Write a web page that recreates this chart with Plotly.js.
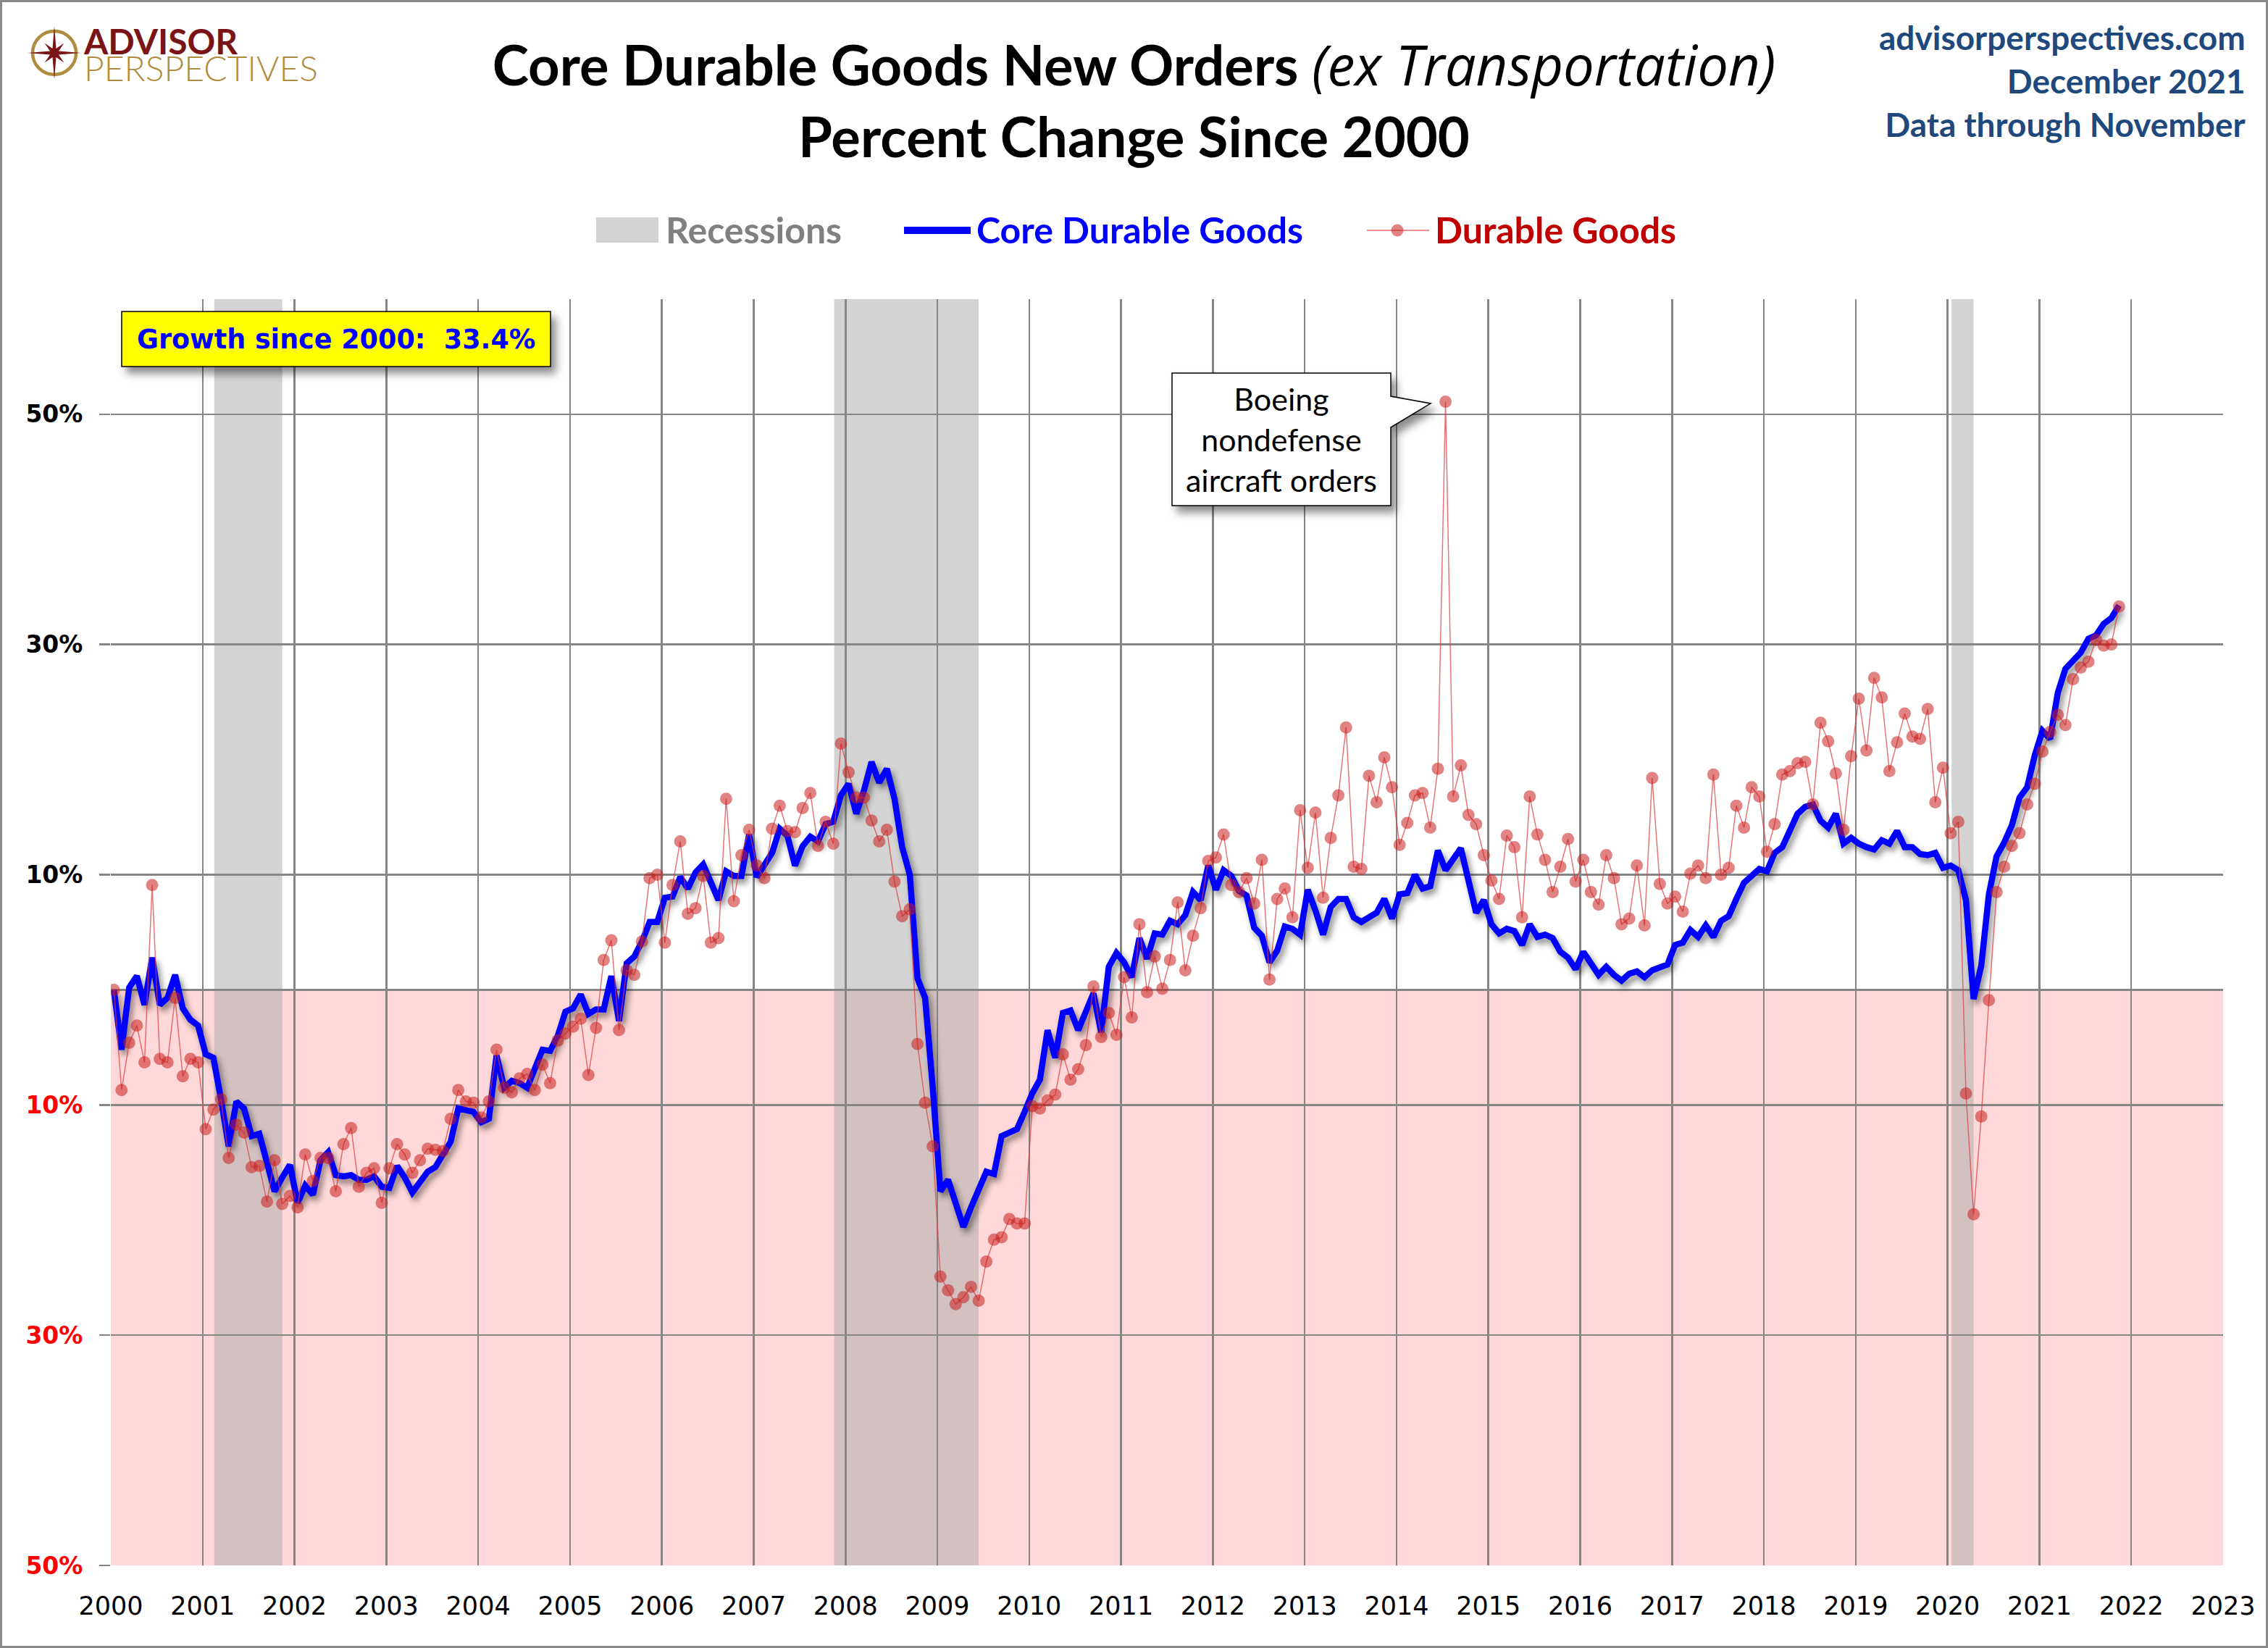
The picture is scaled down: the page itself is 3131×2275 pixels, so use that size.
<!DOCTYPE html>
<html><head><meta charset="utf-8">
<script src="https://cdn.plot.ly/plotly-3.0.1.min.js"></script>
<style>
html,body{margin:0;padding:0;background:#fff;overflow:hidden}
#chart{width:3131px;height:2275px}
#frame{position:absolute;left:0;top:0;width:3131px;height:2275px;box-sizing:border-box;border:3px solid #8a8a8a;pointer-events:none}
</style></head><body>
<div id="chart"></div><div id="frame"></div>
<script>
// ---------- DATA (percent change since Jan 2000, monthly Jan 2000 - Nov 2021) ----------
const startYear = 2000;
const coreDurable = [
  0.0,-5.2,0.2,1.2,-1.3,2.8,-1.3,-0.7,1.3,-1.6,-2.6,-3.1,            // 2000
  -5.6,-5.9,-9.5,-13.6,-9.7,-10.3,-12.7,-12.5,-15.0,-17.5,-16.3,-15.2, // 2001
  -18.5,-17.0,-17.8,-14.8,-14.1,-16.1,-16.2,-16.1,-16.5,-16.5,-16.2,-17.1, // 2002
  -17.2,-15.3,-16.3,-17.6,-16.7,-15.8,-15.4,-14.3,-13.2,-10.3,-10.4,-10.6, // 2003
  -11.5,-11.2,-5.7,-8.5,-7.9,-8.1,-8.5,-6.7,-5.2,-5.3,-4.0,-1.9,      // 2004
  -1.6,-0.4,-2.1,-1.7,-1.7,1.2,-2.7,2.3,2.9,4.2,5.9,5.9,              // 2005
  8.0,8.1,9.8,8.8,10.2,10.9,9.4,7.8,10.3,9.9,9.9,13.5,                // 2006
  9.8,10.9,11.9,14.0,13.4,10.8,12.5,13.3,12.9,14.4,14.6,16.9,         // 2007
  17.9,15.3,17.3,19.8,18.0,19.2,16.6,12.4,10.0,1.0,-0.7,-8.5,         // 2008
  -17.5,-16.5,-18.7,-20.6,-18.9,-17.3,-15.8,-16.0,-12.7,-12.4,-12.1,-10.6, // 2009
  -9.0,-7.8,-3.5,-5.9,-2.0,-1.8,-3.5,-1.9,-0.3,-3.7,2.0,3.2,          // 2010
  2.4,1.1,4.5,2.7,4.9,4.8,6.0,5.7,6.5,8.5,7.8,10.8,                   // 2011
  8.7,10.4,9.9,8.6,8.2,5.4,4.7,2.4,3.4,5.5,5.3,4.8,                   // 2012
  8.7,6.9,4.8,7.2,7.9,7.9,6.3,5.9,6.3,6.7,7.9,6.2,                    // 2013
  8.3,8.4,10.0,8.8,9.0,12.1,10.4,11.3,12.3,9.5,6.7,7.8,               // 2014
  5.7,4.9,5.3,5.1,3.9,5.7,4.6,4.8,4.5,3.3,2.8,1.8,                    // 2015
  3.3,2.3,1.3,2.0,1.3,0.8,1.4,1.6,1.1,1.7,2.0,2.2,                    // 2016
  3.9,4.1,5.2,4.6,5.6,4.6,6.0,6.4,7.9,9.3,9.9,10.5,                   // 2017
  10.3,11.9,12.4,14.0,15.3,15.9,16.1,14.7,14.1,15.3,12.7,13.2,        // 2018
  12.7,12.4,12.2,13.0,12.7,13.8,12.4,12.4,11.8,11.7,11.9,10.6,        // 2019
  10.8,10.4,7.8,-0.8,2.1,8.3,11.6,12.8,14.3,16.7,17.6,20.4,           // 2020
  22.5,21.8,25.8,27.9,28.7,29.3,30.5,30.8,31.8,32.3,33.4              // 2021
];
const durableGoods = [
  0.0,-8.7,-4.6,-3.1,-6.3,9.1,-6.0,-6.3,-0.7,-7.5,-6.0,-6.3,          // 2000
  -12.1,-10.4,-9.5,-14.6,-11.7,-12.4,-15.4,-15.3,-18.4,-14.8,-18.6,-17.9, // 2001
  -18.9,-14.3,-16.6,-14.6,-14.6,-17.5,-13.4,-12.0,-17.1,-15.9,-15.5,-18.5, // 2002
  -15.5,-13.4,-14.3,-15.9,-14.8,-13.8,-13.9,-14.0,-11.2,-8.7,-9.7,-9.8,  // 2003
  -11.1,-9.7,-5.2,-8.5,-8.9,-7.7,-7.3,-8.7,-6.5,-8.1,-4.4,-3.8,       // 2004
  -3.2,-2.5,-7.4,-3.3,2.6,4.3,-3.5,1.7,1.3,4.2,9.7,10.0,              // 2005
  4.1,9.1,12.9,6.6,7.1,9.9,4.1,4.5,16.6,7.7,11.7,13.9,                // 2006
  10.8,9.7,14.0,16.0,13.8,13.7,15.8,17.1,12.5,14.6,12.7,21.4,         // 2007
  18.9,16.7,16.7,14.7,12.9,13.9,9.4,6.4,7.0,-4.7,-9.8,-13.6,          // 2008
  -24.9,-26.1,-27.3,-26.7,-25.8,-27.0,-23.6,-21.7,-21.5,-19.9,-20.3,-20.3, // 2009
  -10.1,-10.3,-9.6,-9.1,-5.6,-7.8,-6.9,-4.8,0.3,-4.1,-2.0,-3.9,       // 2010
  1.1,-2.4,5.7,-0.2,2.9,0.1,2.6,7.6,1.7,4.7,7.1,11.2,                 // 2011
  11.5,13.5,9.1,8.5,9.7,7.5,11.3,0.9,7.9,8.8,6.3,15.6,                // 2012
  10.6,15.4,8.0,13.2,16.9,22.8,10.7,10.5,18.6,16.3,20.2,17.6,         // 2013
  12.6,14.5,16.9,17.1,14.1,19.2,51.1,16.8,19.5,15.2,14.4,11.7,        // 2014
  9.5,7.9,13.4,12.4,6.3,16.8,13.5,11.3,8.5,10.7,13.1,9.4,             // 2015
  11.3,8.5,7.4,11.7,9.7,5.7,6.2,10.8,5.6,18.4,9.2,7.5,                // 2016
  8.1,6.8,10.1,10.8,9.7,18.7,10.0,10.6,16.0,14.1,17.6,16.8,           // 2017
  12.0,14.4,18.7,19.0,19.7,19.8,16.1,23.2,21.6,18.8,13.9,20.3,        // 2018
  25.3,20.8,27.1,25.4,19.0,21.5,24.0,22.0,21.8,24.4,16.3,19.3,        // 2019
  13.6,14.6,-9.0,-19.5,-11.0,-0.9,8.5,10.7,12.5,13.6,16.1,17.9,       // 2020
  20.7,22.4,23.9,23.0,27.0,28.0,28.5,30.4,29.9,30.0,33.3              // 2021
];
const recessionPeaks   = ['2001-03','2007-12','2020-02'];
const recessionTroughs = ['2001-11','2009-06','2020-04'];
const yTickVals = [-50,-30,-10,10,30,50];
const yTickText = yTickVals.map(v => v < 0 ? '<span style="color:#FF0000">' + Math.abs(v) + '%</span>' : v + '%');
const legendNames = ['Recessions','Core Durable Goods','Durable Goods'];
const sourceLines = ['advisorperspectives.com','December 2021','Data through November'];
const calloutText = ['Boeing','nondefense','aircraft orders'];

// ---------- helpers ----------
const monthX = i => startYear + (i + 0.4) / 12;
const monthIndex = s => (parseInt(s.slice(0,4)) - startYear) * 12 + parseInt(s.slice(5,7)) - 1;
const xs = coreDurable.map((_, i) => monthX(i));
const xd = durableGoods.map((_, i) => monthX(i));

const W = 3131, H = 2275, ML = 153, MR = 62, MT = 413, MB = 114;
const PW = W - ML - MR, PH = H - MT - MB;
const px = v => (v - ML) / PW;
const py = v => (MT + PH - v) / PH;

const GRID = '#868686';
const shapes = [];
// negative region
shapes.push({type:'rect', xref:'paper', yref:'y', x0:0, x1:1, y0:-50, y1:0,
  fillcolor:'#FFD9D9', line:{width:0}, layer:'below'});
// recessions
recessionPeaks.forEach((p, k) => {
  shapes.push({type:'rect', xref:'x', yref:'paper',
    x0: monthX(monthIndex(p) - 1) + 0.01, x1: monthX(monthIndex(recessionTroughs[k])),
    y0:0, y1:1, fillcolor:'rgba(172,172,172,0.53)', line:{width:0}, layer:'below'});
});
// growth box
const growthIdx = shapes.length;
shapes.push({type:'rect', xref:'paper', yref:'paper', x0:px(168), x1:px(760), y0:py(506), y1:py(430),
  fillcolor:'#FFFF00', line:{color:'#000', width:1.5}, layer:'above'});
// callout
const cp = [[1618,515],[1920,515],[1920,547],[1975,557],[1920,590],[1920,698],[1618,698]];
const calloutIdx = shapes.length;
shapes.push({type:'path', xref:'paper', yref:'paper',
  path: 'M' + cp.map(p => px(p[0]) + ',' + py(p[1])).join('L') + 'Z',
  fillcolor:'#FFFFFF', line:{color:'#000', width:1.5}, layer:'above'});
// legend symbols
shapes.push({type:'rect', xref:'paper', yref:'paper', x0:px(823), x1:px(909), y0:py(335), y1:py(300),
  fillcolor:'#D3D3D3', line:{width:0}});
shapes.push({type:'line', xref:'paper', yref:'paper', x0:px(1248), x1:px(1340), y0:py(318), y1:py(318),
  line:{color:'#0000FF', width:10}});
shapes.push({type:'line', xref:'paper', yref:'paper', x0:px(1887), x1:px(1973), y0:py(318), y1:py(318),
  line:{color:'rgba(220,60,60,0.75)', width:1.5}});
shapes.push({type:'circle', xref:'paper', yref:'paper', x0:px(1920.5), x1:px(1937.5), y0:py(326.5), y1:py(309.5),
  fillcolor:'rgba(200,30,30,0.55)', line:{width:0}});
// logo compass
const cx = 75, cy = 73;
shapes.push({type:'circle', xref:'paper', yref:'paper', x0:px(cx-30), x1:px(cx+30), y0:py(cy+30), y1:py(cy-30),
  line:{color:'#B08D3E', width:4.5}});
let star = [];
for (let k = 0; k < 16; k++) {
  const a = k * Math.PI / 8;
  const r = (k % 4 === 0) ? 37 : (k % 2 === 0 ? 19 : 6.5);
  star.push(px(cx + r * Math.sin(a)) + ',' + py(cy - r * Math.cos(a)));
}
shapes.push({type:'path', xref:'paper', yref:'paper', path:'M' + star.join('L') + 'Z',
  fillcolor:'#7A1416', line:{width:0}});

const LATO = 'Lato, "Open Sans", sans-serif';
const annotations = [
  // logo: one text element, base size sets the tight line spacing, spans set glyph size
  {xref:'paper', yref:'paper', x:px(113), y:py(75), xanchor:'left', yanchor:'middle', align:'left', showarrow:false,
   text:'<span style="font-size:48px;font-weight:bold;fill:#7A1416">ADVISOR</span><br>' +
        '<span style="font-size:48px;font-weight:300;fill:#B08D3E">PERSPECTIVES</span>',
   font:{family:LATO, size:28.5, color:'#7A1416'}},
  {xref:'paper', yref:'paper', x:px(3102), y:py(112), xanchor:'right', yanchor:'middle', align:'right', showarrow:false,
   text: sourceLines.join('<br>'), font:{family:LATO, size:46, color:'#1F497D', weight:'bold'}},
  {xref:'paper', yref:'paper', x:px(917), y:py(317), xanchor:'left', yanchor:'middle', showarrow:false,
   text: legendNames[0], font:{family:LATO, size:50, color:'#808080', weight:'bold'}},
  {xref:'paper', yref:'paper', x:px(1346), y:py(317), xanchor:'left', yanchor:'middle', showarrow:false,
   text: legendNames[1], font:{family:LATO, size:50, color:'#0000FF', weight:'bold'}},
  {xref:'paper', yref:'paper', x:px(1979), y:py(317), xanchor:'left', yanchor:'middle', showarrow:false,
   text: legendNames[2], font:{family:LATO, size:50, color:'#C00000', weight:'bold'}},
  {xref:'paper', yref:'paper', x:px(464), y:py(468), xanchor:'center', yanchor:'middle', showarrow:false,
   text: 'Growth since 2000:\u00a0 ' + coreDurable[coreDurable.length-1].toFixed(1) + '%',
   font:{family:'DejaVu Sans', size:36.5, color:'#0000FF', weight:'bold'}},
  {xref:'paper', yref:'paper', x:px(1769), y:py(606), xanchor:'center', yanchor:'middle', align:'center', showarrow:false,
   text: calloutText.join('<br>'), font:{family:LATO, size:43, color:'#000'}}
];

const traces = [
  {type:'scatter', mode:'lines', x:xs, y:coreDurable, name:legendNames[1],
   line:{color:'#0000FF', width:8.5}, hoverinfo:'skip'},
  {type:'scatter', mode:'lines+markers', x:xd, y:durableGoods, name:legendNames[2],
   line:{color:'rgba(220,60,60,0.7)', width:1.5},
   marker:{size:17, color:'rgba(200,30,30,0.55)', line:{width:0}}, hoverinfo:'skip'}
];

const layout = {
  width:W, height:H, margin:{l:ML, r:MR, t:MT, b:MB}, showlegend:false,
  paper_bgcolor:'#FFFFFF', plot_bgcolor:'#FFFFFF',
  title:{text:'Core Durable Goods New Orders <span style="font-family:\'Open Sans\';font-weight:normal"><i>(ex Transportation)</i></span><br>Percent Change Since 2000',
    font:{family:LATO, size:76, color:'#000', weight:'bold'},
    x:0.5, xref:'container', xanchor:'center', y:1 - 118/H, yref:'container', yanchor:'middle'},
  xaxis:{range:[2000, 2023], tickmode:'linear', tick0:2000, dtick:1, tickformat:'d',
    showgrid:true, gridcolor:GRID, gridwidth:2.5, zeroline:false, showline:false, ticks:'',
    tickfont:{family:'DejaVu Sans', size:35, color:'#000'}, ticklabelstandoff:32},
  yaxis:{range:[-50, 60], tickmode:'array', tickvals:yTickVals, ticktext:yTickText,
    showgrid:true, gridcolor:GRID, gridwidth:2.5, zeroline:true, zerolinecolor:GRID, zerolinewidth:2.5,
    showline:false, ticks:'outside', ticklen:15, tickwidth:2.5, tickcolor:GRID,
    tickfont:{family:'DejaVu Sans', size:33, color:'#000', weight:'bold'}, ticklabelstandoff:16},
  shapes:shapes, annotations:annotations
};

Plotly.newPlot('chart', traces, layout, {displayModeBar:false, staticPlot:true}).then(gd => {
  const tr = gd.querySelectorAll('.scatterlayer .trace');
  if (tr[0]) tr[0].querySelectorAll('path.js-line').forEach(p => p.style.filter = 'drop-shadow(4px 6px 4px rgba(0,0,0,0.45))');
  gd.querySelectorAll('.shapelayer path').forEach(p => {
    const idx = parseInt(p.getAttribute('data-index'));
    if (idx === growthIdx || idx === calloutIdx) p.style.filter = 'drop-shadow(7px 9px 6px rgba(0,0,0,0.45))';
  });
});
</script>
</body></html>
